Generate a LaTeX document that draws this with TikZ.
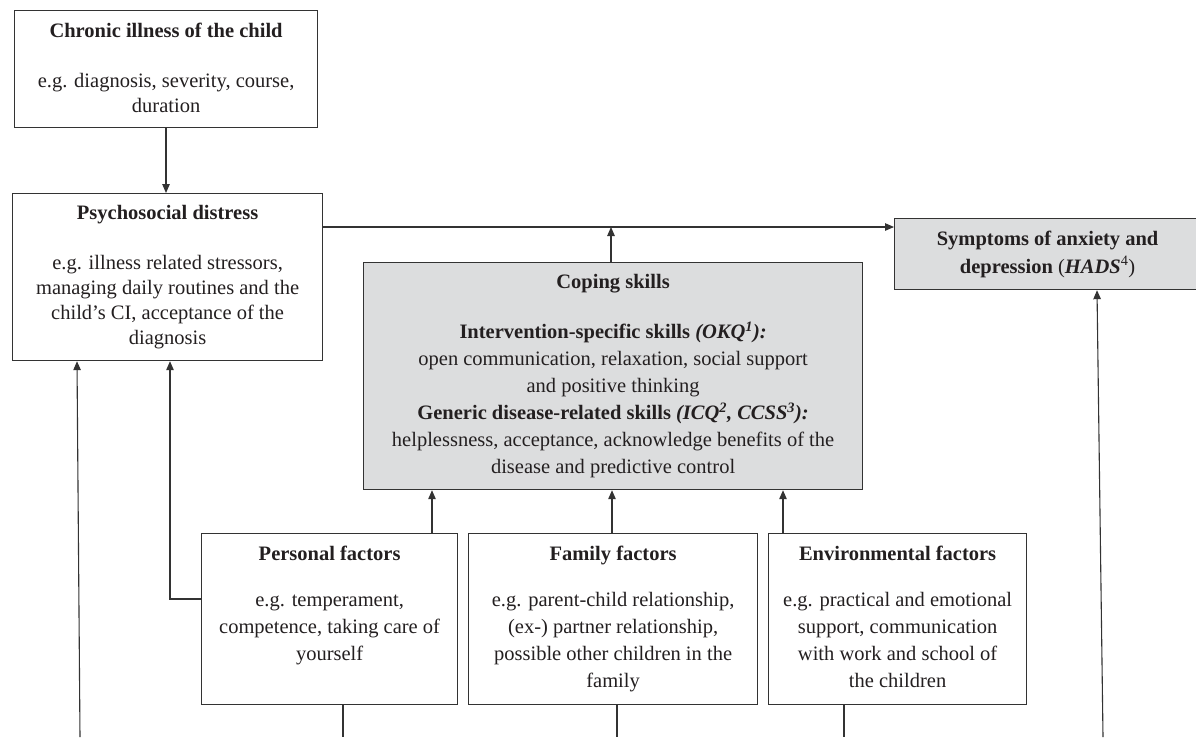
\documentclass[tikz,border=0pt]{standalone}
\usepackage{fontspec}
\setmainfont{Liberation Serif}
\usetikzlibrary{arrows.meta}
\definecolor{ink}{HTML}{231F20}
\definecolor{linec}{HTML}{333333}
\definecolor{boxgray}{HTML}{DCDDDE}
% #1 width, #2 height, #3 top pad, #4 baselineskip, #5 content
\newcommand{\boxtxt}[5]{\parbox[c][#2][t]{#1}{\fontsize{20.5}{#4}\selectfont\vspace*{#3}\centering #5\par}}
\begin{document}
\begin{tikzpicture}[x=1pt,y=-1pt,
  font=\fontsize{20.5}{26}\selectfont, text=ink,
  box/.style={draw=linec, line width=1.2pt, inner sep=0pt, anchor=north west},
  graybox/.style={box, fill=boxgray},
  conn/.style={draw=linec, line width=1.1pt},
  arr/.style={conn, -{Triangle[length=9pt,width=7.5pt]}}]
\useasboundingbox (0,0) rectangle (1196,737);
\clip (0,0) rectangle (1196,737);
\fill[white] (0,0) rectangle (1196,737);

\node[box] (chronic) at (14,10) {\boxtxt{303pt}{117pt}{12pt}{25pt}{\textbf{Chronic illness of the child}\\[25pt]
  e.g. diagnosis, severity, course,\\ duration}};

\node[box] (psych) at (12,193) {\boxtxt{310pt}{167pt}{12pt}{25pt}{\textbf{Psychosocial distress}\\[25pt]
  e.g. illness related stressors,\\ managing daily routines and the\\ child’s CI, acceptance of the\\ diagnosis}};

\node[graybox] (coping) at (363,262) {\boxtxt{499pt}{227pt}{12pt}{27pt}{\textbf{Coping skills}\\[23pt]
  \textbf{Intervention-specific skills \textit{(OKQ\textsuperscript{1}):}}\\
  open communication, relaxation, social support\\ and positive thinking\\
  \textbf{Generic disease-related skills \textit{(ICQ\textsuperscript{2}, CCSS\textsuperscript{3}):}}\\
  helplessness, acceptance, acknowledge benefits of the\\ disease and predictive control}};

\node[graybox] (sympt) at (894,218) {\parbox[c][71pt][c]{306pt}{\fontsize{20.5}{28}\selectfont\centering
  \textbf{Symptoms of anxiety and}\\ \textbf{depression} (\textbf{\textit{HADS}}\textsuperscript{4})\par}};

\node[box] (personal) at (201,533) {\boxtxt{256pt}{171pt}{12pt}{27pt}{\textbf{Personal factors}\\[19pt]
  e.g. temperament,\\ competence, taking care of\\ yourself}};

\node[box] (family) at (468,533) {\boxtxt{289pt}{171pt}{12pt}{27pt}{\textbf{Family factors}\\[19pt]
  e.g. parent-child relationship,\\ (ex-) partner relationship,\\ possible other children in the\\ family}};

\node[box] (env) at (768,533) {\boxtxt{258pt}{171pt}{12pt}{27pt}{\textbf{Environmental factors}\\[19pt]
  e.g. practical and emotional\\ support, communication\\ with work and school of\\ the children}};

% coordinates
\coordinate (hl) at (psych.east |- 0,227);
\coordinate (copUp) at (611,227);
\coordinate (bendP) at (170,599);
\coordinate (botL) at (80,737);
\coordinate (botR) at (1103,737);
\coordinate (botP) at (343,737);
\coordinate (botF) at (617,737);
\coordinate (botE) at (844,737);

\draw[arr] (chronic.south -| 166,0) -- (166,193);
\draw[arr] (hl) -- (sympt.west |- hl);
\draw[arr] (coping.north -| copUp) -- (copUp);
\draw[arr] (personal.north -| 432,0) -- (coping.south -| 432,0);
\draw[arr] (family.north -| 612,0) -- (coping.south -| 612,0);
\draw[arr] (env.north -| 783,0) -- (coping.south -| 783,0);
\draw[arr] (personal.west |- bendP) -- (bendP) -- (psych.south -| bendP);
\draw[arr] (botL) -- (psych.south -| 77,0);
\draw[arr] (botR) -- (sympt.south -| 1097,0);
\draw[conn] (personal.south -| botP) -- (botP);
\draw[conn] (family.south -| botF) -- (botF);
\draw[conn] (env.south -| botE) -- (botE);
\end{tikzpicture}
\end{document}
